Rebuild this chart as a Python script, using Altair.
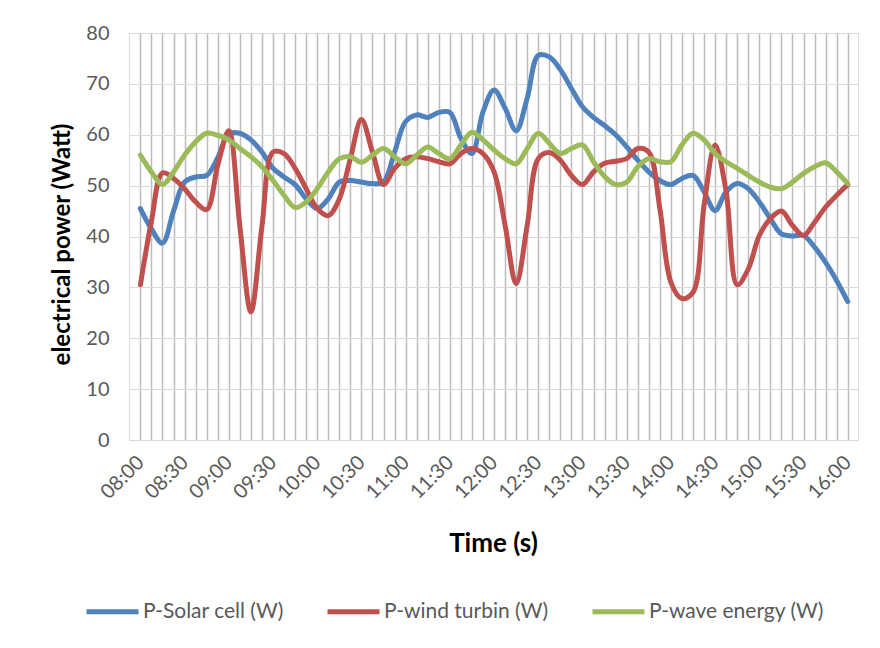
import json
import altair as alt
import pandas as pd

# Category index: 0..64 (08:00 to 16:00, one category every 7.5 min)
tick_labels = ["08:00", "08:30", "09:00", "09:30", "10:00", "10:30", "11:00", "11:30",
               "12:00", "12:30", "13:00", "13:30", "14:00", "14:30", "15:00", "15:30", "16:00"]

solar = [45.5, 41.5, 38.7, 45.0, 50.7, 51.7, 52.0, 55.5, 60.2, 60.3,
         59.0, 56.6, 53.4, 51.7, 50.2, 47.4, 45.5, 47.4, 50.7, 51.0,
         50.7, 50.4, 50.7, 56.6, 62.6, 63.9, 63.4, 64.4, 64.4, 59.3,
         56.3, 64.5, 68.8, 65.2, 60.8, 67.2, 75.6, 75.3, 72.8, 69.1,
         65.5, 63.4, 61.8, 60.0, 57.6, 55.0, 52.7, 51.0, 50.2, 51.4,
         52.0, 48.8, 45.1, 48.8, 50.4, 49.4, 46.8, 43.5, 40.5, 40.1,
         40.2, 37.9, 34.9, 31.3, 27.2]

wind = [30.5, 43.0, 52.5, 51.4, 49.4, 46.8, 45.3, 54.0, 60.8, 42.0,
        25.2, 42.0, 56.6, 56.3, 53.4, 49.4, 45.5, 44.1, 47.4, 55.3,
        63.0, 56.6, 50.2, 53.4, 55.3, 55.7, 55.3, 54.7, 54.3, 56.3,
        57.3, 56.3, 52.7, 42.2, 30.7, 42.2, 55.3, 56.5, 55.0, 52.0,
        50.2, 52.7, 54.4, 54.8, 55.3, 57.3, 56.6, 45.5, 31.0, 27.8,
        29.0, 46.1, 58.0, 48.8, 30.5, 33.6, 40.2, 43.5, 45.0, 42.2,
        40.2, 42.8, 45.8, 48.1, 50.2]

wave = [56.0, 52.7, 50.2, 52.7, 56.0, 58.6, 60.3, 59.9, 59.0, 57.3,
        55.7, 53.7, 51.0, 48.1, 45.7, 46.8, 49.4, 52.7, 55.3, 55.7,
        54.6, 56.0, 57.3, 55.7, 54.3, 56.0, 57.6, 56.3, 55.3, 58.0,
        60.5, 59.0, 57.0, 55.3, 54.3, 57.3, 60.3, 58.3, 56.3, 57.3,
        58.0, 54.7, 51.8, 50.2, 50.7, 53.7, 55.3, 54.7, 54.7, 58.0,
        60.3, 59.0, 56.3, 54.7, 53.4, 52.0, 50.7, 49.7, 49.4, 50.7,
        52.4, 53.7, 54.5, 52.7, 50.4]

series_names = ["P-Solar cell (W)", "P-wind turbin (W)", "P-wave energy (W)"]
series_colors = ["#4f81bd", "#c0504d", "#9bbb59"]

rows = []
for name, vals in zip(series_names, [solar, wind, wave]):
    for i, v in enumerate(vals):
        rows.append({"idx": i, "series": name, "value": v})
df = pd.DataFrame(rows)

FONT = "Lato"
label_expr = (
    "datum.value % 4 == 0 && datum.value >= 0 && datum.value <= 64 ? "
    + json.dumps(tick_labels) + "[datum.value / 4] : ''"
)

chart = (
    alt.Chart(df)
    .mark_line(interpolate="catmull-rom", strokeWidth=5, strokeCap="round", strokeJoin="round")
    .encode(
        x=alt.X(
            "idx:Q",
            scale=alt.Scale(domain=[-1.03, 64.93], nice=False, zero=False),
            axis=alt.Axis(
                values=list(range(0, 65)),
                labelExpr=label_expr,
                labelAngle=315,
                labelAlign="right",
                labelBaseline="middle",
                labelPadding=19,
                labelFontSize=20,
                labelColor="#595959",
                labelFont=FONT,
                labelOverlap=False,
                labelFlush=False,
                ticks=False,
                grid=True,
                gridColor="#bcbcbc",
                gridWidth=1.5,
                domain=True,
                domainColor="#d9d9d9",
                domainWidth=1,
                title="Time (s)",
                titleFont=FONT,
                titleFontSize=26,
                titleFontWeight="bold",
                titleColor="#000000",
                titleX=364,
                titleY=103,
                titleAlign="center",
                titleBaseline="middle",
            ),
        ),
        y=alt.Y(
            "value:Q",
            scale=alt.Scale(domain=[0, 80], nice=False),
            axis=alt.Axis(
                values=list(range(0, 81, 10)),
                labelFontSize=20,
                labelColor="#595959",
                labelFont=FONT,
                labelPadding=20,
                ticks=False,
                domain=False,
                grid=True,
                gridColor="#d9d9d9",
                gridWidth=1,
                title="electrical power (Watt)",
                titleFont=FONT,
                titleFontSize=24,
                titleFontWeight="bold",
                titleColor="#000000",
                titleAngle=270,
                titleX=-67,
                titleY=211,
                titleAlign="center",
                titleBaseline="middle",
            ),
        ),
        color=alt.Color(
            "series:N",
            scale=alt.Scale(domain=series_names, range=series_colors),
            legend=alt.Legend(
                orient="none",
                legendX=-45,
                legendY=550,
                direction="horizontal",
                title=None,
                symbolType="stroke",
                symbolSize=2704,
                symbolStrokeWidth=5,
                labelFont=FONT,
                labelFontSize=21,
                labelColor="#595959",
                labelOffset=2,
                columnPadding=33,
                labelLimit=400,
            ),
        ),
        order=alt.Order("idx:Q"),
    )
    .properties(
        width=729,
        height=407,
        autosize=alt.AutoSizeParams(type="none"),
        padding={"left": 121, "top": 25, "right": 14, "bottom": 200},
    )
    .configure_view(stroke="#d9d9d9", strokeWidth=1)
    .configure(background="#ffffff")
)

chart.save("out.html", embed_options={"renderer": "svg", "actions": False})
